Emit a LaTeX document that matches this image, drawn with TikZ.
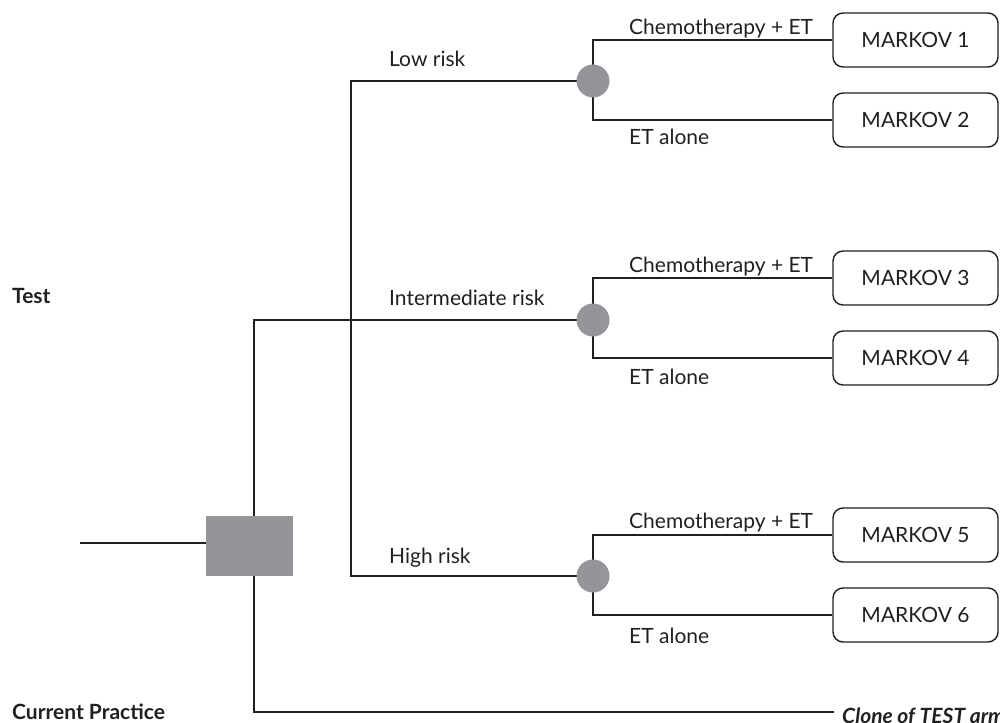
\documentclass[tikz,border=0pt]{standalone}
\usepackage{fontspec}
\setmainfont{Lato}
\usetikzlibrary{backgrounds}
\definecolor{ink}{HTML}{231F20}
\definecolor{nodegray}{HTML}{939598}
\begin{document}
\begin{tikzpicture}[x=1pt,y=-1pt,
  conn/.style={draw=ink,line width=1.4pt},
  chance/.style={circle,fill=nodegray,minimum size=33pt,inner sep=0pt},
  decision/.style={rectangle,fill=nodegray,minimum width=87pt,minimum height=60pt,inner sep=0pt},
  markov/.style={rectangle,draw=ink,line width=1.4pt,rounded corners=10pt,minimum width=165pt,minimum height=54pt,inner sep=0pt,font=\fontsize{21}{24}\selectfont,text=ink},
  lbl/.style={inner sep=0pt,font=\fontsize{21}{24}\selectfont,text=ink},
  blbl/.style={inner sep=0pt,font=\fontsize{21}{24}\selectfont\bfseries,text=ink}]
\useasboundingbox (0,0) rectangle (1000,722);
% nodes
\node[decision] (sq) at (249.5,546) {};
\coordinate (start) at (80,543);
\coordinate (trunk) at (254,543);
\coordinate (xb) at (351,320);
\coordinate (cp) at (834,712);
\node[chance] (c1) at (593,81) {};
\node[chance] (c2) at (593,320) {};
\node[chance] (c3) at (593,576) {};
\node[markov] (m1) at (915.5,40) {MARKOV 1};
\node[markov] (m2) at (915.5,120) {MARKOV 2};
\node[markov] (m3) at (915.5,278) {MARKOV 3};
\node[markov] (m4) at (915.5,358) {MARKOV 4};
\node[markov] (m5) at (915.5,535) {MARKOV 5};
\node[markov] (m6) at (915.5,615) {MARKOV 6};
% connectors
\begin{scope}[on background layer]
\draw[conn] (start) -- (sq.west |- start);
\draw[conn] (trunk |- sq.north) |- (c2.center);
\draw[conn] (trunk |- sq.south) |- (cp);
\draw[conn] (c1.center) -| (xb) |- (c3.center);
\draw[conn] (m1.west) -| (c1.center) |- (m2.west);
\draw[conn] (m3.west) -| (c2.center) |- (m4.west);
\draw[conn] (m5.west) -| (c3.center) |- (m6.west);
\end{scope}
% labels
\node[lbl,anchor=base west] (l1) at (389,67) {Low risk};
\node[lbl,anchor=base west] (l2) at (389,305) {Intermediate risk};
\node[lbl,anchor=base west] (l3) at (389,563) {High risk};
\foreach \i/\ya/\yb in {1/35/145,2/272/384,3/528/643}{
  \node[lbl,anchor=base west] (ch\i) at (629,\ya) {Chemotherapy + ET};
  \node[lbl,anchor=base west] (et\i) at (629,\yb) {ET alone};
}
\node[blbl,anchor=base west] (test) at (12,303) {Test};
\node[blbl,anchor=base west] (cur) at (12,719) {Current Practice};
\node[blbl,anchor=base west,font=\fontsize{21}{24}\selectfont\bfseries\itshape] (clone) at (842,723) {Clone of TEST arm};
\end{tikzpicture}
\end{document}
